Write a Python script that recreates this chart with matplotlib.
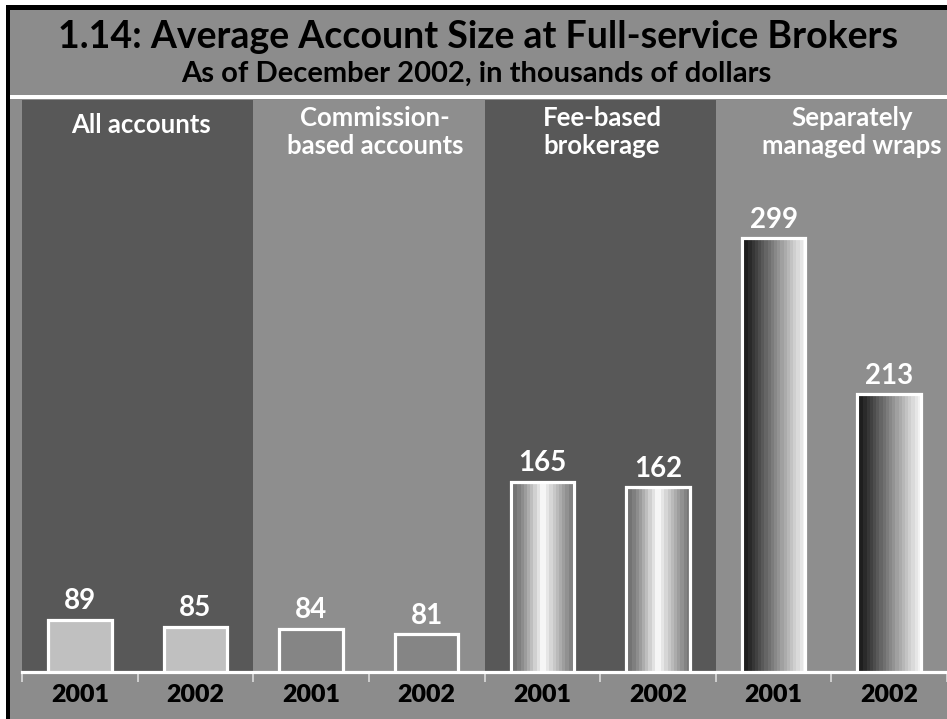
import numpy as np
import matplotlib
matplotlib.use("Agg")
import matplotlib.pyplot as plt
from matplotlib.patches import Rectangle

# ---- data -------------------------------------------------------------
groups = ["All accounts", "Commission-\nbased accounts", "Fee-based\nbrokerage",
          "Separately\nmanaged wraps"]
years = ["2001", "2002", "2001", "2002", "2001", "2002", "2001", "2002"]
values = [89, 85, 84, 81, 165, 162, 299, 213]
bar_group = [0, 0, 1, 1, 2, 2, 3, 3]

title = "1.14: Average Account Size at Full-service Brokers"
subtitle = "As of December 2002, in thousands of dollars"

# ---- styling ----------------------------------------------------------
W, H, DPI = 947, 719, 100
BG = "#8c8c8c"
DARK = "#585858"
LIGHT_PANEL = "#8e8e8e"
FONT = ["Lato", "DejaVu Sans"]
plt.rcParams["font.family"] = FONT

fig = plt.figure(figsize=(W / DPI, H / DPI), dpi=DPI, facecolor=BG)


def fx(px):
    return px / W


def fy(py):
    return 1 - py / H


def fig_rect(x0, y0, x1, y1, color, z=0):
    fig.patches.append(Rectangle((fx(x0), fy(y1)), fx(x1) - fx(x0), fy(y0) - fy(y1),
                                 transform=fig.transFigure, facecolor=color,
                                 edgecolor="none", zorder=z))


# outer frame: white margin, black border top and left
fig_rect(0, 0, W, 5, "white")
fig_rect(0, 0, 6, H, "white")
fig_rect(6, 5, W, 10, "black")
fig_rect(6, 5, 10, H, "black")
# white rule under the headings
fig_rect(10, 95, W, 99, "white")

fig.text(fx(478), fy(48), title, ha="center", va="baseline", fontsize=27,
         fontweight="bold", color="black")
fig.text(fx(476), fy(82), subtitle, ha="center", va="baseline", fontsize=21,
         fontweight="bold", color="black")

# ---- plot area --------------------------------------------------------
ax_l, ax_r, ax_t, ax_b = 22, 947, 100, 671.5
ax = fig.add_axes([fx(ax_l), fy(ax_b), fx(ax_r) - fx(ax_l), fy(ax_t) - fy(ax_b)])
ax.set_facecolor(BG)
y0 = 60.5
y1 = y0 + (ax_b - ax_t) / 1.817

# alternating group panels
panel_colors = [DARK, LIGHT_PANEL, DARK, LIGHT_PANEL]
for g, c in enumerate(panel_colors):
    ax.axvspan(2 * g - 0.5, 2 * g + 1.5, color=c, zorder=0, lw=0)

x = np.arange(len(values))
bar_w = 0.55
solid_fill = {0: "#c0c0c0", 1: "#858585"}

# stepped horizontal gradients
n_steps = 20
t = (np.arange(n_steps) + 0.5) / n_steps
cyl = np.where(t < 0.5, 0.40 + 0.60 * (t / 0.5) ** 1.3,
               1.0 - 0.56 * ((t - 0.5) / 0.5) ** 0.9)
ramp = 0.05 + 0.92 * t
gradients = {2: cyl, 3: ramp}

bars = ax.bar(x, values, width=bar_w, bottom=0, zorder=3, linewidth=2.3,
              edgecolor="white",
              facecolor=[solid_fill.get(g, "none") for g in bar_group])

for b, g in zip(bars, bar_group):
    if g in gradients:
        bx, bwid, bh = b.get_x(), b.get_width(), b.get_height()
        img = ax.imshow(gradients[g][np.newaxis, :], cmap="gray", vmin=0, vmax=1,
                        extent=[bx, bx + bwid, y0, bh], aspect="auto",
                        interpolation="nearest", zorder=2)
        img.set_clip_path(b)

ax.set_xlim(-0.5, len(values) - 0.5)
ax.set_ylim(y0, y1)

for xi, v in zip(x, values):
    ax.annotate(str(v), (xi, v), xytext=(0, 4), textcoords="offset points",
                ha="center", va="bottom", fontsize=20, fontweight="bold",
                color="white", zorder=4)

# group headings
head_cx = [141, 375, 602, 852]
for g, (label, cx) in enumerate(zip(groups, head_cx)):
    lines = label.split("\n")
    base = [133] if len(lines) == 1 else [126, 154]
    for ln, by in zip(lines, base):
        fig.text(fx(cx), fy(by), ln, ha="center", va="baseline", fontsize=18.5,
                 fontweight="bold", color="white")

# axis styling
for side in ["top", "left", "right"]:
    ax.spines[side].set_visible(False)
ax.spines["bottom"].set_color("white")
ax.spines["bottom"].set_linewidth(2.3)
ax.spines["bottom"].set_zorder(5)
ax.set_yticks([])
ax.set_xticks(x)
ax.set_xticklabels(years, fontsize=18, fontweight="heavy", color="black")
ax.tick_params(axis="x", which="major", length=0, pad=9)
ax.set_xticks(np.arange(-0.5, len(values), 1.0), minor=True)
ax.tick_params(axis="x", which="minor", length=7, width=1.2, color="#dcdcdc",
               direction="out")

fig.savefig("out.png", dpi=DPI, facecolor=BG)
